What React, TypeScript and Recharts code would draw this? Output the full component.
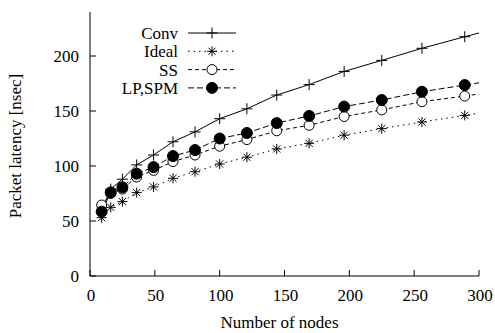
import React from "react";
import { LineChart, Line, XAxis, YAxis, Legend, Label } from "recharts";

// number of nodes (square meshes); the last one lies past the axis and is clipped
const nodes = [9, 16, 25, 36, 49, 64, 81, 100, 121, 144, 169, 196, 225, 256, 289, 324];
const conv = [60, 79, 88, 101, 110, 122, 131, 143, 152, 164.5, 174, 186, 196, 207, 217.5, 228.5];
const ideal = [53, 62.4, 67.6, 75.8, 81, 88.8, 94.8, 101.8, 108, 115.5, 120.6, 128, 134, 140, 146, 153];
const ss = [64.5, 75, 79, 90, 96, 104, 110, 118, 124, 132, 137, 145, 151, 158.5, 163.6, 169.5];
const lpSpm = [58.5, 76, 80.6, 93, 99, 109, 114.5, 125, 130, 139, 145.5, 154, 160, 167.5, 173.6, 180];

const xTicks = [0, 50, 100, 150, 200, 250, 300];
const yTicks = [0, 50, 100, 150, 200];

const rows = nodes.map((n, i) => ({
  n,
  conv: conv[i],
  ideal: ideal[i],
  ss: ss[i],
  lp: lpSpm[i],
}));

const FONT = "'Liberation Serif', 'DejaVu Serif', serif";
const FS = 17;
const INK = "#000";

type Mark = "plus" | "star" | "open" | "filled";

const marker = (kind: Mark, cx: number, cy: number, key?: string) => {
  if (kind === "plus")
    return <path key={key} d={`M${cx - 5.5},${cy}h11M${cx},${cy - 5.5}v11`} stroke={INK} strokeWidth={1} fill="none" />;
  if (kind === "star")
    return (
      <path
        key={key}
        d={`M${cx - 5},${cy}h10M${cx},${cy - 5}v10M${cx - 3.6},${cy - 3.6}l7.2,7.2M${cx - 3.6},${cy + 3.6}l7.2,-7.2`}
        stroke={INK}
        strokeWidth={1}
        fill="none"
      />
    );
  if (kind === "open")
    return <circle key={key} cx={cx} cy={cy} r={5} fill="#fff" stroke={INK} strokeWidth={1} />;
  return <circle key={key} cx={cx} cy={cy} r={5.5} fill={INK} stroke={INK} strokeWidth={1} />;
};

const series: { key: string; name: string; dash?: string; mark: Mark }[] = [
  { key: "conv", name: "Conv", mark: "plus" },
  { key: "ideal", name: "Ideal", dash: "1.5 4", mark: "star" },
  { key: "ss", name: "SS", dash: "4 3", mark: "open" },
  { key: "lp", name: "LP,SPM", dash: "6 3", mark: "filled" },
];

const dotFor = (kind: Mark, id: string) => (p: any) =>
  p.cx == null || p.cy == null ? <g key={`${id}-${p.index}`} /> : marker(kind, p.cx, p.cy, `${id}-${p.index}`);

const BottomTick = (p: any) => (
  <g>
    <line x1={p.x} y1={p.y} x2={p.x} y2={p.y - 6} stroke={INK} />
    <text x={p.x + 1} y={p.y + 25} textAnchor="middle" fontFamily={FONT} fontSize={FS} fill={INK}>
      {p.payload.value}
    </text>
  </g>
);
const TopTick = (p: any) => <line x1={p.x} y1={p.y} x2={p.x} y2={p.y + 6} stroke={INK} />;
const LeftTick = (p: any) => (
  <g>
    <line x1={p.x} y1={p.y} x2={p.x + 6} y2={p.y} stroke={INK} />
    <text x={p.x - 11} y={p.y + 6} textAnchor="end" fontFamily={FONT} fontSize={FS} fill={INK}>
      {p.payload.value}
    </text>
  </g>
);
const RightTick = (p: any) => <line x1={p.x} y1={p.y} x2={p.x - 6} y2={p.y} stroke={INK} />;

const legendBox = () => (
  <svg width={250} height={100} style={{ display: "block" }}>
    {series.map((s, i) => {
      const y = 33 + i * 18.3;
      return (
        <g key={s.key}>
          <text x={178} y={y + 6} textAnchor="end" fontFamily={FONT} fontSize={FS} fill={INK}>
            {s.name}
          </text>
          <line x1={188} y1={y} x2={236} y2={y} stroke={INK} strokeDasharray={s.dash} />
          {marker(s.mark, 212, y)}
        </g>
      );
    })}
  </svg>
);

export default function App() {
  return (
    <div style={{ position: "absolute", left: 0, top: 0, background: "#fff" }}>
      <LineChart width={495} height={333} data={rows} margin={{ top: 12, right: 16, bottom: 0, left: 0 }}>
        <XAxis
          dataKey="n"
          type="number"
          domain={[0, 300]}
          ticks={xTicks}
          allowDataOverflow
          height={57}
          tickSize={0}
          tickMargin={0}
          tick={BottomTick}
          axisLine={{ stroke: INK }}
          interval={0}
        >
          <Label
            content={(props: any) => {
              const vb = props.viewBox;
              return (
                <text x={vb.x + vb.width / 2 - 5} y={vb.y + 52} textAnchor="middle" fontFamily={FONT} fontSize={FS} fill={INK}>
                  Number of nodes
                </text>
              );
            }}
          />
        </XAxis>
        <XAxis
          xAxisId="top"
          dataKey="n"
          type="number"
          orientation="top"
          domain={[0, 300]}
          ticks={xTicks}
          allowDataOverflow
          height={0}
          tickSize={0}
          tickMargin={0}
          tick={TopTick}
          axisLine={{ stroke: INK }}
          interval={0}
        />
        <YAxis
          type="number"
          domain={[0, 240]}
          ticks={yTicks}
          allowDataOverflow
          width={90}
          tickSize={0}
          tickMargin={0}
          tick={LeftTick}
          axisLine={{ stroke: INK }}
          interval={0}
        >
          <Label
            content={(props: any) => {
              const vb = props.viewBox;
              const cy = vb.y + vb.height / 2 + 2;
              return (
                <text
                  x={21}
                  y={cy}
                  transform={`rotate(-90 21 ${cy})`}
                  textAnchor="middle"
                  fontFamily={FONT}
                  fontSize={FS}
                  fill={INK}
                >
                  Packet latency [nsec]
                </text>
              );
            }}
          />
        </YAxis>
        <YAxis
          yAxisId="right"
          orientation="right"
          type="number"
          domain={[0, 240]}
          ticks={yTicks}
          allowDataOverflow
          width={0}
          tickSize={0}
          tickMargin={0}
          tick={RightTick}
          axisLine={{ stroke: INK }}
          interval={0}
        />
        <Legend
          layout="vertical"
          align="center"
          verticalAlign="middle"
          content={legendBox}
          wrapperStyle={{ position: "absolute", left: 0, top: 0, width: 250, height: 100 }}
        />
        {series.map((s) => (
          <Line
            key={s.key}
            dataKey={s.key}
            name={s.name}
            stroke={INK}
            strokeWidth={1}
            strokeDasharray={s.dash}
            dot={dotFor(s.mark, s.key)}
            activeDot={false}
            isAnimationActive={false}
          />
        ))}
      </LineChart>
    </div>
  );
}
